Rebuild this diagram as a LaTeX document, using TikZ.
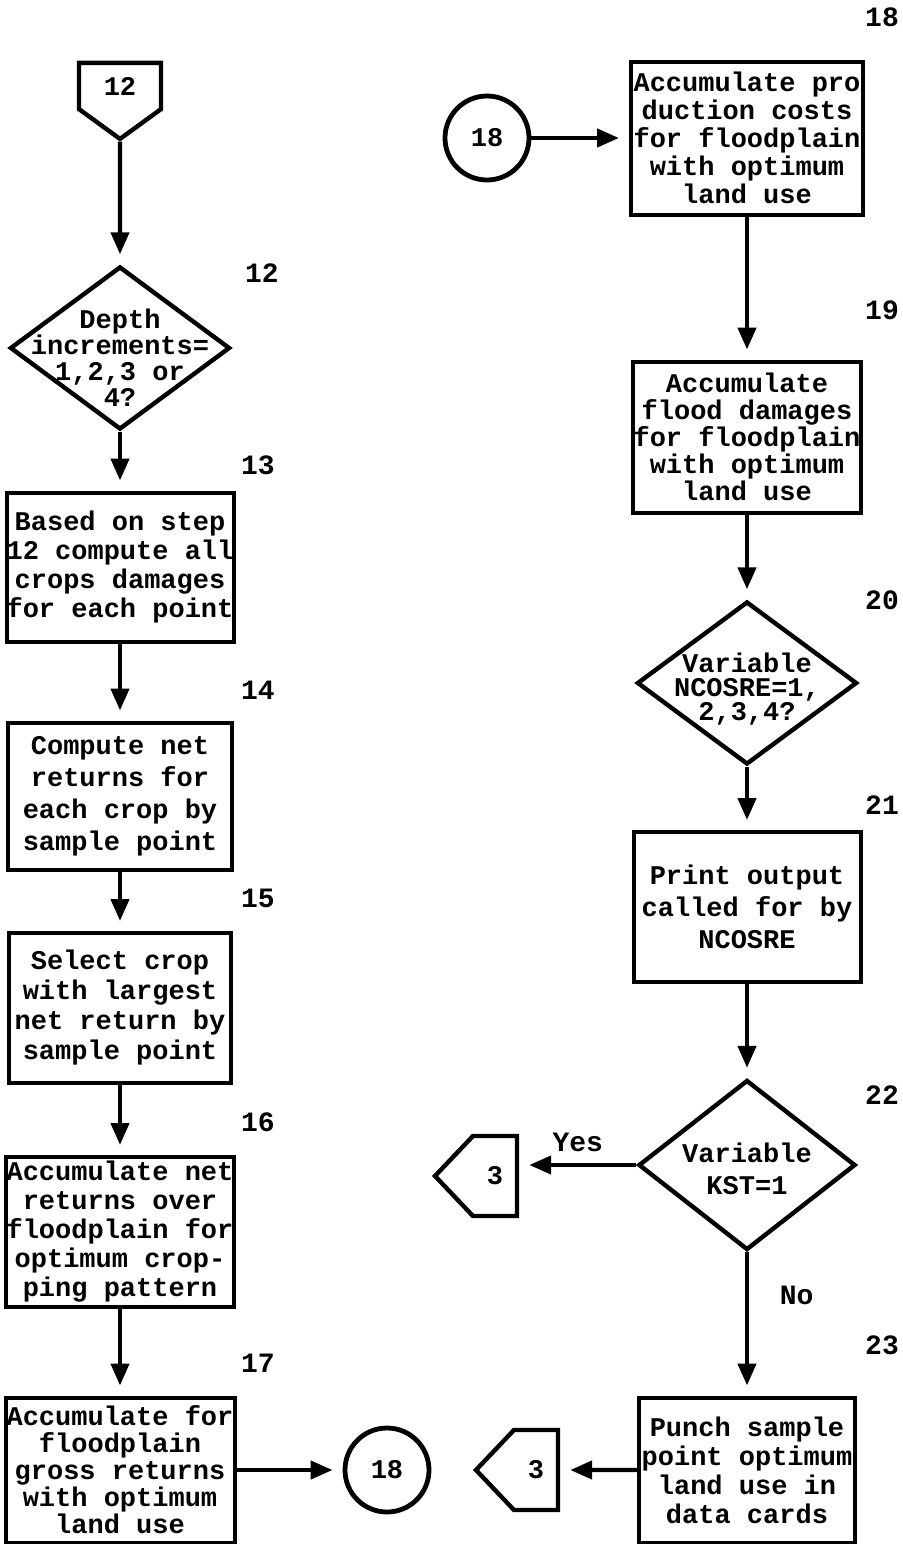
\documentclass[tikz,border=0pt]{standalone}
\usepackage{fontspec}
\setmonofont{Liberation Mono}
\usetikzlibrary{shapes.geometric,shapes.symbols,arrows.meta}

\tikzset{
  stepbox/.style={draw, line width=2pt, inner sep=0pt, align=center,
    font=\fontsize{13.5}{#1}\selectfont\ttfamily\bfseries},
  stepbox/.default=14.5pt,
  decision/.style={draw, diamond, line width=2.2pt, inner sep=0pt},
  dtext/.style={align=center, font=\fontsize{13.5}{#1}\selectfont\ttfamily\bfseries},
  dtext/.default=13pt,
  offpage/.style={draw, signal, line width=2.2pt, inner sep=0pt,
    minimum width=41pt, minimum height=40pt,
    font=\fontsize{13.5}{13.5}\selectfont\ttfamily\bfseries},
  joint/.style={draw, circle, line width=2.4pt, minimum size=42pt, inner sep=0pt,
    font=\fontsize{13.5}{13.5}\selectfont\ttfamily\bfseries},
  stepno/.style={font=\fontsize{14}{14}\selectfont\ttfamily\bfseries},
  arr/.style={-{Triangle[length=11pt,width=9pt]}, line width=2.2pt, shorten >=5pt}
}

\begin{document}
\begin{tikzpicture}[x=0.5pt, y=-0.5pt]
\useasboundingbox (0,0) rectangle (903,1544);

% left column
\node[offpage, signal to=south, signal pointer angle=108, minimum height=29pt] (off12) at (120,86) {12};
\node[decision, minimum width=110pt, minimum height=81.5pt,
  label={[dtext, yshift=-5pt]center:{Depth\\increments=\\1,2,3 or\\4?}}] (d12) at (120,348) {};
\node[stepbox, minimum width=113.5pt, minimum height=74.5pt] (b13) at (120,567)
  {Based on step\\12 compute all\\crops damages\\for each point};
\node[stepbox=16pt, minimum width=112pt, minimum height=73.5pt] (b14) at (120,796)
  {Compute net\\returns for\\each crop by\\sample point};
\node[stepbox=15pt, minimum width=111pt, minimum height=75pt] (b15) at (120,1008)
  {Select crop\\with largest\\net return by\\sample point};
\node[stepbox, minimum width=114pt, minimum height=75pt] (b16) at (120,1232)
  {Accumulate net\\returns over\\floodplain for\\optimum crop-\\ping pattern};
\node[stepbox=13.5pt, minimum width=114.5pt, minimum height=72.5pt] (b17) at (120,1470)
  {Accumulate for\\floodplain\\gross returns\\with optimum\\land use};
\node[joint] (c18a) at (387,1470) {18};

\node[stepno] (n12) at (262,273) {12};
\node[stepno] (n13) at (258,465) {13};
\node[stepno] (n14) at (258,690) {14};
\node[stepno] (n15) at (258,898) {15};
\node[stepno] (n16) at (258,1122) {16};
\node[stepno] (n17) at (258,1363) {17};

% right column
\node[joint] (c18b) at (487,138) {18};
\node[stepbox=14pt, minimum width=116pt, minimum height=76.5pt] (b18) at (747,138)
  {Accumulate pro\\duction costs\\for floodplain\\with optimum\\land use};
\node[stepbox=13.5pt, minimum width=114pt, minimum height=75.5pt] (b19) at (747,437)
  {Accumulate\\flood damages\\for floodplain\\with optimum\\land use};
\node[decision, minimum width=110pt, minimum height=81.5pt,
  label={[dtext=12pt, yshift=-3pt]center:{Variable\\NCOSRE=1,\\2,3,4?}}] (d20) at (747,683) {};
\node[stepbox=16pt, minimum width=113.5pt, minimum height=75pt] (b21) at (747,907)
  {Print output\\called for by\\NCOSRE};
\node[decision, minimum width=108.5pt, minimum height=85pt,
  label={[dtext=16pt, yshift=-2pt]center:{Variable\\KST=1}}] (d22) at (747,1165) {};
\node[offpage, signal to=west, signal pointer angle=93] (p3a) at (495,1176) {3};
\node[stepbox, minimum width=108pt, minimum height=72.5pt] (b23) at (747,1470)
  {Punch sample\\point optimum\\land use in\\data cards};
\node[offpage, signal to=west, signal pointer angle=93] (p3b) at (536,1470) {3};

\node[stepno] (n18) at (882,17) {18};
\node[stepno] (n19) at (882,310) {19};
\node[stepno] (n20) at (882,600) {20};
\node[stepno] (n21) at (882,805) {21};
\node[stepno] (n22) at (882,1095) {22};
\node[stepno] (n23) at (882,1345) {23};

\draw[arr] (off12) -- (d12);
\draw[arr] (d12) -- (b13);
\draw[arr] (b13) -- (b14);
\draw[arr] (b14) -- (b15);
\draw[arr] (b15) -- (b16);
\draw[arr] (b16) -- (b17);
\draw[arr] (b17) -- (c18a);

\draw[arr] (c18b) -- (b18);
\draw[arr] (b18) -- (b19);
\draw[arr] (b19) -- (d20);
\draw[arr] (d20) -- (b21);
\draw[arr] (b21) -- (d22);
\draw[arr] (d22.west) -- node[stepno, above=2pt] {Yes} (d22.west -| p3a.east);
\draw[arr] (d22) -- node[stepno, pos=0.3, right=12pt] {No} (b23);
\draw[arr] (b23) -- (p3b);
\end{tikzpicture}
\end{document}
